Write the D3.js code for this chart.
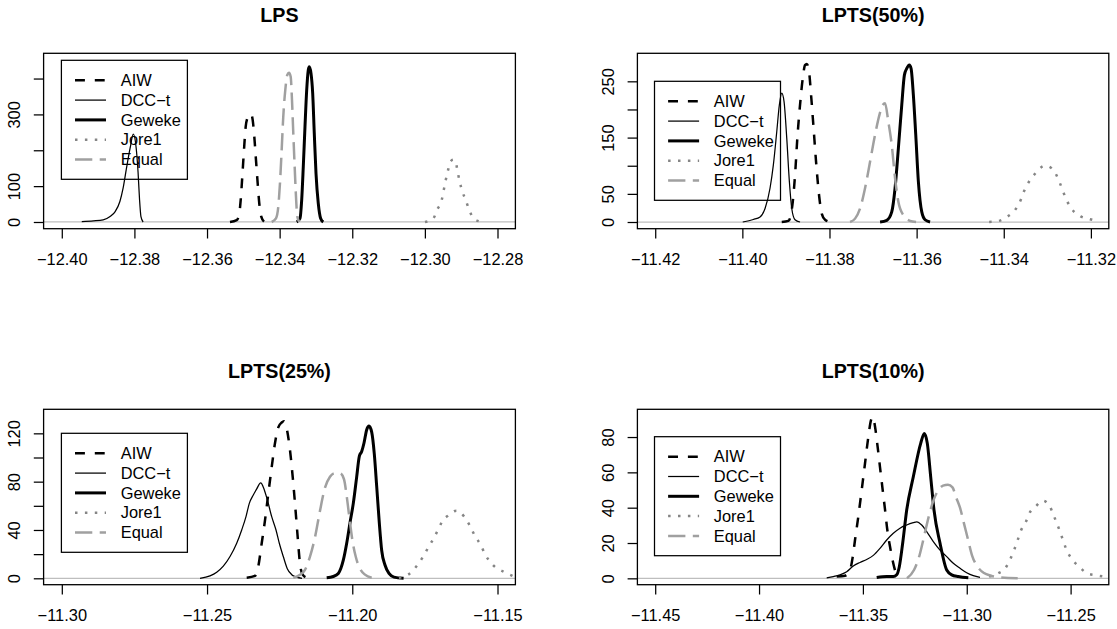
<!DOCTYPE html>
<html>
<head>
<meta charset="utf-8">
<script src="https://cdn.jsdelivr.net/npm/d3@7"></script>
<style>
    body { margin: 0; background: #fff; }
    svg text { font-family: "Liberation Sans", Arial, Helvetica, sans-serif; fill: #000; }
</style>
</head>
<body>
<svg id="chart" width="1117" height="629"></svg>
<script>
// ---- data (density curves) ----
var seriesNames = ["AIW", "DCC\u2212t", "Geweke", "Jore1", "Equal"];
var panelTitles = ["LPS", "LPTS(50%)", "LPTS(25%)", "LPTS(10%)"];

// LPS
var lpsAIW = [[-12.35368,0],[-12.35183,5],[-12.35112,24],[-12.35073,61],[-12.35029,126],[-12.34982,201],[-12.34935,266],[-12.34891,289],[-12.34836,298],[-12.34789,301],[-12.34742,284],[-12.34698,238],[-12.34652,173],[-12.34605,108],[-12.34561,52],[-12.34506,15],[-12.34431,1]];
var lpsDCC = [[-12.3945,1],[-12.3913,3],[-12.3886,6],[-12.3867,15],[-12.3853,29],[-12.3840,57],[-12.3831,95],[-12.3821,155],[-12.3812,205],[-12.3803,245],[-12.3795,205],[-12.3790,140],[-12.3786,65],[-12.3782,15],[-12.3776,0]];
var lpsGeweke = [[-12.33531,0],[-12.33440,10],[-12.33393,61],[-12.33349,154],[-12.33302,266],[-12.33255,368],[-12.33211,424],[-12.33184,433],[-12.33137,415],[-12.33090,359],[-12.33046,247],[-12.32999,136],[-12.32936,52],[-12.32870,10],[-12.32798,0]];
var lpsJore1 = [[-12.29997,0],[-12.29769,10],[-12.29658,35],[-12.29537,61],[-12.29482,88],[-12.29427,116],[-12.29364,144],[-12.29281,170],[-12.29218,174],[-12.29152,167],[-12.29097,140],[-12.29042,113],[-12.28970,86],[-12.28868,59],[-12.28777,33],[-12.28640,8],[-12.28400,0]];
var lpsEqual = [[-12.34219,0],[-12.34101,10],[-12.34037,43],[-12.33991,108],[-12.33944,201],[-12.33900,294],[-12.33845,368],[-12.33790,410],[-12.33743,416],[-12.33696,405],[-12.33660,340],[-12.33624,247],[-12.33586,154],[-12.33550,71],[-12.33514,15],[-12.33459,0]];

// LPTS(50%)
var l50AIW = [[-11.39096,0],[-11.38944,2],[-11.38905,7],[-11.38843,36],[-11.38791,83],[-11.38738,149],[-11.38676,208],[-11.38614,255],[-11.38561,279],[-11.38522,281],[-11.38469,267],[-11.38423,226],[-11.38370,172],[-11.38308,107],[-11.38240,48],[-11.38178,15],[-11.38102,4],[-11.37971,0]];
var l50DCC = [[-11.39991,0],[-11.39748,4.5],[-11.39594,9],[-11.39479,24],[-11.39365,60],[-11.39289,101],[-11.39211,160],[-11.39151,208],[-11.39096,229],[-11.39043,214],[-11.38981,149],[-11.38921,72],[-11.38866,24],[-11.38791,4],[-11.38676,0]];
var l50Geweke = [[-11.36839,0],[-11.36685,3],[-11.36571,18],[-11.36495,60],[-11.36419,131],[-11.36341,208],[-11.36281,261],[-11.36226,273],[-11.36167,279],[-11.36128,273],[-11.36075,226],[-11.36020,155],[-11.35960,72],[-11.35882,18],[-11.35806,4],[-11.35691,0]];
var l50Jore1 = [[-11.34335,0],[-11.34112,2],[-11.33908,10],[-11.33735,22],[-11.33611,39],[-11.33533,55],[-11.33433,70],[-11.33292,85],[-11.33146,97],[-11.33063,100],[-11.32978,99],[-11.32817,87],[-11.32716,70],[-11.32638,54],[-11.32551,38],[-11.32447,24],[-11.32234,10],[-11.32020,5],[-11.31809,1]];
var l50Equal = [[-11.37528,0],[-11.37413,6],[-11.37298,24],[-11.37184,60],[-11.37069,107],[-11.36954,155],[-11.36855,190],[-11.36777,208],[-11.36725,211],[-11.36649,178],[-11.36571,137],[-11.36495,78],[-11.36419,36],[-11.36304,12],[-11.36151,2],[-11.36013,0]];

// LPTS(25%)
var l25AIW = [[-11.23635,0.5],[-11.23349,2],[-11.23235,10],[-11.23118,29],[-11.23005,48],[-11.22891,70],[-11.22774,92],[-11.22660,112],[-11.22547,125],[-11.22430,129],[-11.22351,130],[-11.22258,124],[-11.22144,106],[-11.22051,84],[-11.21962,59],[-11.21879,34],[-11.21800,12],[-11.21707,3],[-11.21569,0.5]];
var l25DCC = [[-11.25242,0],[-11.24898,2],[-11.24667,5],[-11.24440,10],[-11.24209,18],[-11.23979,29],[-11.23807,40],[-11.23659,51],[-11.23545,62],[-11.23407,69],[-11.23290,74],[-11.23153,79],[-11.23039,74],[-11.22925,65],[-11.22774,51],[-11.22626,40],[-11.22512,29],[-11.22375,18],[-11.22237,8],[-11.22085,3],[-11.21913,1],[-11.21731,0]];
var l25Geweke = [[-11.20881,0.5],[-11.20653,1.5],[-11.20481,4],[-11.20309,15],[-11.20192,29],[-11.20078,46],[-11.19965,62],[-11.19848,84],[-11.19758,101],[-11.19676,105],[-11.19596,112],[-11.19503,123],[-11.19424,126],[-11.19331,121],[-11.19242,103],[-11.19159,76],[-11.19070,46],[-11.18987,23],[-11.18874,11],[-11.18736,4],[-11.18564,1],[-11.18233,0]];
var l25Jore1 = [[-11.18395,0.5],[-11.18075,3],[-11.17803,9.5],[-11.17559,18],[-11.17373,26],[-11.17225,32],[-11.17028,41],[-11.16908,47],[-11.16698,52],[-11.16416,56],[-11.16144,51],[-11.15961,44],[-11.15775,35],[-11.15589,28],[-11.15407,19],[-11.15159,11],[-11.14791,5.5],[-11.14446,1.5]];
var l25Equal = [[-11.22030,0.5],[-11.21800,3],[-11.21628,7],[-11.21456,18],[-11.21283,34],[-11.21111,56],[-11.20939,75],[-11.20767,84],[-11.20595,87],[-11.20423,87],[-11.20285,82],[-11.20192,68],[-11.20103,51],[-11.19999,32],[-11.19882,18],[-11.19734,8],[-11.19562,3],[-11.19331,0.5]];

// LPTS(10%)
var l10AIW = [[-11.36261,1],[-11.35862,1.5],[-11.35621,4.7],[-11.35491,12],[-11.35380,21.7],[-11.35221,35],[-11.35058,50],[-11.34899,65],[-11.34740,80],[-11.34610,89.6],[-11.34528,91.5],[-11.34417,86],[-11.34307,76],[-11.34177,63],[-11.34047,50],[-11.33936,39],[-11.33825,27.5],[-11.33695,18],[-11.33565,10],[-11.33455,4.7],[-11.33344,1.5],[-11.33214,0.5]];
var l10DCC = [[-11.36743,0.3],[-11.36425,1],[-11.36102,2],[-11.35780,3.7],[-11.35462,7],[-11.35140,9],[-11.34817,10.7],[-11.34499,13],[-11.34177,17],[-11.33854,21.7],[-11.33536,25.5],[-11.33214,28.4],[-11.32891,30.2],[-11.32573,31.5],[-11.32410,32],[-11.32169,30.2],[-11.31928,26.4],[-11.31610,20.8],[-11.31288,16],[-11.30965,12.3],[-11.30648,8.5],[-11.30325,5.7],[-11.30003,3.2],[-11.29685,1.5],[-11.29362,0.5]];
var l10Geweke = [[-11.34336,0.5],[-11.33854,1],[-11.33536,1],[-11.33373,2],[-11.33247,6.6],[-11.33084,20],[-11.32891,38.7],[-11.32573,57.5],[-11.32217,76.4],[-11.32044,82],[-11.31899,76.4],[-11.31736,57.5],[-11.31577,38.7],[-11.31288,20],[-11.30965,4.7],[-11.30725,2],[-11.30407,1],[-11.29925,0.3]];
var l10Jore1 = [[-11.28924,1],[-11.28491,2.8],[-11.28149,5.7],[-11.27922,10.4],[-11.27720,16],[-11.27547,21.7],[-11.27374,27.5],[-11.27152,32],[-11.26979,37],[-11.26685,40.6],[-11.26343,44],[-11.25997,40.6],[-11.25794,35],[-11.25568,28.3],[-11.25395,22.6],[-11.25226,17],[-11.24966,11.3],[-11.24591,6.6],[-11.24191,2.8],[-11.23849,1.9],[-11.23387,1]];
var l10Equal = [[-11.32877,0],[-11.32540,4.7],[-11.32299,12],[-11.32058,23.6],[-11.31818,35.5],[-11.31577,45],[-11.31360,50],[-11.31143,52.5],[-11.30903,53],[-11.30686,51.5],[-11.30517,46],[-11.30325,40],[-11.30132,31],[-11.29940,22],[-11.29747,13],[-11.29506,7],[-11.29169,3],[-11.28832,1.5],[-11.28399,0.5],[-11.27547,0]];

// axis limits and ticks
var lpsXLim = [-12.40501, -12.27507], lpsYLim = [-18.7, 470.4];
var l50XLim = [-11.42409, -11.31589], l50YLim = [-11.9, 299.8];
var l25XLim = [-11.30627, -11.14384], l25YLim = [-5.3, 139.9];
var l10XLim = [-11.45857, -11.23161], l10YLim = [-3.6, 95.7];

var lpsXTicks = [-12.40, -12.38, -12.36, -12.34, -12.32, -12.30, -12.28];
var l50XTicks = [-11.42, -11.40, -11.38, -11.36, -11.34, -11.32];
var l25XTicks = [-11.30, -11.25, -11.20, -11.15];
var l10XTicks = [-11.45, -11.40, -11.35, -11.30, -11.25];

var lpsYTicks = [0, 100, 200, 300, 400], lpsYLabels = [0, 100, 300];
var l50YTicks = [0, 50, 100, 150, 200, 250], l50YLabels = [0, 50, 150, 250];
var l25YTicks = [0, 20, 40, 60, 80, 100, 120], l25YLabels = [0, 40, 80, 120];
var l10YTicks = [0, 20, 40, 60, 80], l10YLabels = [0, 20, 40, 60, 80];

// ---- styles (R lwd 1 ~ 1.24px here) ----
var lineStyles = [
    { color: "#000", width: 2.5, dash: "9.9,9.9" },    // AIW, lty 2
    { color: "#000", width: 1.25, dash: null },        // DCC-t
    { color: "#000", width: 3, dash: null },           // Geweke
    { color: "#858585", width: 2.5, dash: "2.5,7.4" }, // Jore1, lty 3
    { color: "#a0a0a0", width: 2.5, dash: "17.3,7.4" } // Equal, lty 5
];
var axisFont = "16.4px", titleFont = "19.7px", tickLen = 9.8;

var panels = [
    { title: panelTitles[0], series: [lpsAIW, lpsDCC, lpsGeweke, lpsJore1, lpsEqual], xLim: lpsXLim, yLim: lpsYLim, xTicks: lpsXTicks, yTicks: lpsYTicks, yLabels: lpsYLabels,
      box: { x0: 43.6, x1: 515.4, y0: 53.3, y1: 228.7 }, legend: { dx: 17.8, dy: 7 } },
    { title: panelTitles[1], series: [l50AIW, l50DCC, l50Geweke, l50Jore1, l50Equal], xLim: l50XLim, yLim: l50YLim, xTicks: l50XTicks, yTicks: l50YTicks, yLabels: l50YLabels,
      box: { x0: 637.4, x1: 1108.8, y0: 53.3, y1: 228.7 }, legend: { dx: 17.1, dy: 28 } },
    { title: panelTitles[2], series: [l25AIW, l25DCC, l25Geweke, l25Jore1, l25Equal], xLim: l25XLim, yLim: l25YLim, xTicks: l25XTicks, yTicks: l25YTicks, yLabels: l25YLabels,
      box: { x0: 43.6, x1: 515.4, y0: 409.3, y1: 584.7 }, legend: { dx: 17.8, dy: 24 } },
    { title: panelTitles[3], series: [l10AIW, l10DCC, l10Geweke, l10Jore1, l10Equal], xLim: l10XLim, yLim: l10YLim, xTicks: l10XTicks, yTicks: l10YTicks, yLabels: l10YLabels,
      box: { x0: 637.4, x1: 1108.8, y0: 409.3, y1: 584.7 }, legend: { dx: 17.1, dy: 27.4 } }
];

var svg = d3.select("#chart");
svg.append("rect").attr("width", 1117).attr("height", 629).attr("fill", "#fff");

panels.forEach(function (p, pi) {
    var b = p.box;
    var x = d3.scaleLinear().domain(p.xLim).range([b.x0, b.x1]);
    var y = d3.scaleLinear().domain(p.yLim).range([b.y1, b.y0]);
    var g = svg.append("g");

    // clip to plot region, like R does
    var clipId = "clip" + pi;
    svg.append("clipPath").attr("id", clipId)
        .append("rect").attr("x", b.x0).attr("y", b.y0)
        .attr("width", b.x1 - b.x0).attr("height", b.y1 - b.y0);

    var plot = g.append("g").attr("clip-path", "url(#" + clipId + ")");

    // zero line
    plot.append("line")
        .attr("x1", b.x0).attr("x2", b.x1)
        .attr("y1", y(0)).attr("y2", y(0))
        .attr("stroke", "#bebebe").attr("stroke-width", 1.25);

    var line = d3.line()
        .x(function (d) { return x(d[0]); })
        .y(function (d) { return y(d[1]); })
        .curve(d3.curveMonotoneX);

    p.series.forEach(function (s, i) {
        var st = lineStyles[i];
        plot.append("path")
            .datum(s)
            .attr("d", line)
            .attr("fill", "none")
            .attr("stroke", st.color)
            .attr("stroke-width", st.width)
            .attr("stroke-dasharray", st.dash)
            .attr("stroke-linejoin", "round");
    });

    // x axis
    var xAxis = g.append("g")
        .attr("transform", "translate(0," + b.y1 + ")")
        .call(d3.axisBottom(x).tickValues(p.xTicks).tickFormat(d3.format(".2f")).tickSize(tickLen).tickSizeOuter(0));
    xAxis.select(".domain").remove();
    xAxis.selectAll("line").attr("stroke", "#000").attr("stroke-width", 1.25);
    xAxis.selectAll("text")
        .attr("y", 31).attr("dy", "0.35em")
        .style("font-size", axisFont).attr("fill", "#000");

    // y axis, labels parallel to the axis
    var yAxis = g.append("g")
        .attr("transform", "translate(" + b.x0 + ",0)")
        .call(d3.axisLeft(y).tickValues(p.yTicks)
            .tickFormat(function (d) { return p.yLabels.indexOf(d) >= 0 ? d : ""; })
            .tickSize(tickLen).tickSizeOuter(0));
    yAxis.select(".domain").remove();
    yAxis.selectAll("line").attr("stroke", "#000").attr("stroke-width", 1.25);
    yAxis.selectAll("text")
        .attr("x", null).attr("dy", "0.35em")
        .attr("transform", "translate(-29.5,0) rotate(-90)")
        .attr("text-anchor", "middle")
        .style("font-size", axisFont).attr("fill", "#000");

    // box
    g.append("rect")
        .attr("x", b.x0).attr("y", b.y0)
        .attr("width", b.x1 - b.x0).attr("height", b.y1 - b.y0)
        .attr("fill", "none").attr("stroke", "#000").attr("stroke-width", 1.3);

    // title
    g.append("text")
        .attr("x", (b.x0 + b.x1) / 2).attr("y", b.y0 - 38)
        .attr("dy", "0.35em").attr("text-anchor", "middle")
        .style("font-size", titleFont).style("font-weight", "bold")
        .text(p.title);

    // legend (no fill, curves show through)
    var lx = b.x0 + p.legend.dx, ly = b.y0 + p.legend.dy;
    var lg = g.append("g").attr("transform", "translate(" + lx + "," + ly + ")");
    lg.append("rect").attr("width", 126).attr("height", 119)
        .attr("fill", "none").attr("stroke", "#000").attr("stroke-width", 1.25);
    seriesNames.forEach(function (name, i) {
        var st = lineStyles[i];
        var yy = 20 + i * 19.8;
        lg.append("line")
            .attr("x1", 13.6).attr("x2", 44.6).attr("y1", yy).attr("y2", yy)
            .attr("stroke", st.color).attr("stroke-width", st.width)
            .attr("stroke-dasharray", st.dash);
        lg.append("text")
            .attr("x", 59.3).attr("y", yy).attr("dy", "0.35em")
            .style("font-size", axisFont)
            .text(name);
    });
});
</script>
</body>
</html>
